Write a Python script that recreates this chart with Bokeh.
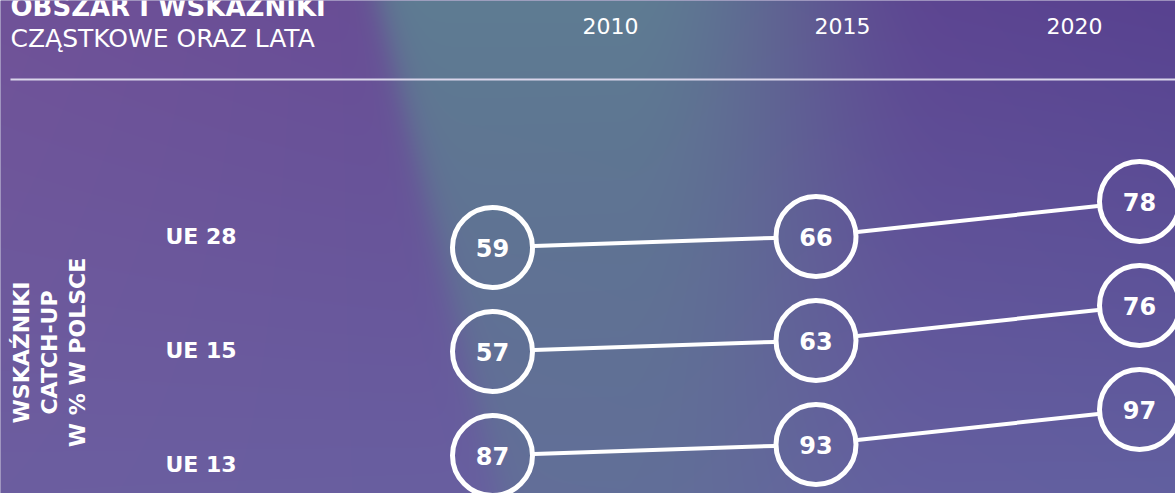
import math
import numpy as np
from bokeh.plotting import figure
from bokeh.models import Range1d
from bokeh.core.properties import value
from bokeh.embed import file_html
from bokeh.resources import INLINE

# ---------------- data ----------------
years = [2010, 2015, 2020]
row_labels = ["UE 28", "UE 15", "UE 13"]
ue28 = [59, 66, 78]
ue15 = [57, 63, 76]
ue13 = [87, 93, 97]
series = [ue28, ue15, ue13]
side_title = ["WSKAŹNIKI", "CATCH-UP", "W % W POLSCE"]
header_bold = "OBSZAR I WSKAŹNIKI"
header_light = "CZĄSTKOWE ORAZ LATA"

# ---------------- layout ----------------
W, H = 1175, 493
PX_PER_YEAR = 64.7
X0 = 2010 - 492 / PX_PER_YEAR
ROW_PX = 104.0
ROW0_PX = 247.0
year_lift = [0.0, -11 / 104, -46 / 104]   # upward tilt of rows per year (layout only)
HDR_PX_PER_YEAR = 46.4
HX0 = 2010 - 610 / HDR_PX_PER_YEAR
LBL_ROW_PX = 114.0
LBL_ROW0_PX = 236.0
FONT = "DejaVu Sans"

p = figure(width=W, height=H, output_backend="svg", toolbar_location=None,
           x_range=Range1d(X0, X0 + W / PX_PER_YEAR),
           y_range=Range1d((H - ROW0_PX) / ROW_PX, -ROW0_PX / ROW_PX),
           min_border=0, min_border_left=0, min_border_right=0,
           min_border_top=0, min_border_bottom=0)
p.axis.visible = False
p.xgrid.visible = False
p.ygrid.visible = False
p.outline_line_color = None
p.background_fill_color = "#66569a"
p.border_fill_color = "#66569a"

p.extra_x_ranges = {"px": Range1d(0, W),
                    "hdr": Range1d(HX0, HX0 + W / HDR_PX_PER_YEAR)}
p.extra_y_ranges = {"up": Range1d(0, H), "down": Range1d(H, 0),
                    "lbl": Range1d((H - LBL_ROW0_PX) / LBL_ROW_PX, -LBL_ROW0_PX / LBL_ROW_PX)}

# ---------------- background gradient ----------------
yy, xx = np.mgrid[0:H, 0:W].astype(float)
fx = xx / (W - 1)
fy = yy / (H - 1)
tl = np.array([112, 82, 152.0]); tr = np.array([88, 66, 144.0])
bl = np.array([108, 94, 160.0]); br = np.array([98, 96, 160.0])
base = (tl[None, None, :] * ((1 - fx) * (1 - fy))[..., None]
        + tr[None, None, :] * (fx * (1 - fy))[..., None]
        + bl[None, None, :] * ((1 - fx) * fy)[..., None]
        + br[None, None, :] * (fx * fy)[..., None])
teal = np.array([94, 124, 146.0])
edge = xx - (377 + 0.245 * yy)
left_w = 1 / (1 + np.exp(-edge / 9.0))
t = np.clip((xx - 620) / 330.0, 0, 1)
right_w = 1 - t * t * (3 - 2 * t)
vert_w = 1 - 0.45 * fy
w = left_w * right_w * vert_w
rgb = base * (1 - w[..., None]) + teal[None, None, :] * w[..., None]
img = np.empty((H, W), dtype=np.uint32)
view = img.view(dtype=np.uint8).reshape((H, W, 4))
view[:, :, :3] = np.flipud(np.clip(rgb, 0, 255)).astype(np.uint8)
view[:, :, 3] = 255
p.image_rgba(image=[img], x=0, y=0, dw=W, dh=H, x_range_name="px", y_range_name="up")

# ---------------- header ----------------
p.segment(x0=[10], y0=[79], x1=[W], y1=[79], x_range_name="px", y_range_name="down",
          line_color="#d9d5ea", line_width=2)
p.text(x=[10], y=[6], text=[header_bold], x_range_name="px", y_range_name="down",
       text_font=value(FONT), text_font_style="bold", text_font_size="26px",
       text_color="white", text_baseline="middle", text_align="left")
p.text(x=[10], y=[38], text=[header_light], x_range_name="px", y_range_name="down",
       text_font=value(FONT), text_font_style="normal", text_font_size="25px",
       text_color="white", text_baseline="middle", text_align="left")
p.text(x=years, y=[25] * len(years), text=[str(y) for y in years],
       x_range_name="hdr", y_range_name="down",
       text_font=value(FONT), text_font_size="22px", text_color="white",
       text_baseline="middle", text_align="center")

# ---------------- side title & row labels ----------------
p.text(x=[21, 49, 77], y=[352] * 3, text=side_title, angle=math.pi / 2,
       x_range_name="px", y_range_name="down",
       text_font=value(FONT), text_font_style="bold", text_font_size="22px",
       text_color="white", text_baseline="middle", text_align="center")
p.text(x=[165] * len(row_labels), y=list(range(len(row_labels))), text=row_labels,
       x_range_name="px", y_range_name="lbl",
       text_font=value(FONT), text_font_style="bold", text_font_size="22px",
       text_color="white", text_baseline="middle", text_align="left")

# ---------------- connectors ----------------
R = 41.5
sx0, sy0, sx1, sy1 = [], [], [], []
for r, vals in enumerate(series):
    for i in range(len(years) - 1):
        ax = (years[i] - X0) * PX_PER_YEAR
        ay = ROW0_PX + (r + year_lift[i]) * ROW_PX
        bx = (years[i + 1] - X0) * PX_PER_YEAR
        by = ROW0_PX + (r + year_lift[i + 1]) * ROW_PX
        d = math.hypot(bx - ax, by - ay)
        ux, uy = (bx - ax) / d, (by - ay) / d
        sx0.append(X0 + (ax + ux * R) / PX_PER_YEAR)
        sy0.append((ay + uy * R - ROW0_PX) / ROW_PX)
        sx1.append(X0 + (bx - ux * R) / PX_PER_YEAR)
        sy1.append((by - uy * R - ROW0_PX) / ROW_PX)
p.segment(x0=sx0, y0=sy0, x1=sx1, y1=sy1, line_color="white", line_width=4)

# ---------------- circles & values ----------------
cx, cy, ct = [], [], []
for r, vals in enumerate(series):
    for i, v in enumerate(vals):
        cx.append(years[i])
        cy.append(r + year_lift[i])
        ct.append(str(v))
p.scatter(x=cx, y=cy, marker="circle", size=80, fill_alpha=0,
          line_color="white", line_width=5)
p.text(x=cx, y=cy, text=ct, text_font=value(FONT), text_font_style="bold",
       text_font_size="24px", text_color="white", text_align="center",
       text_baseline="middle")

html = file_html(p, INLINE)
html = html.replace("<head>", "<head><style>html,body{margin:0;padding:0;overflow:hidden;}</style>", 1)
open("out.html", "w").write(html)
